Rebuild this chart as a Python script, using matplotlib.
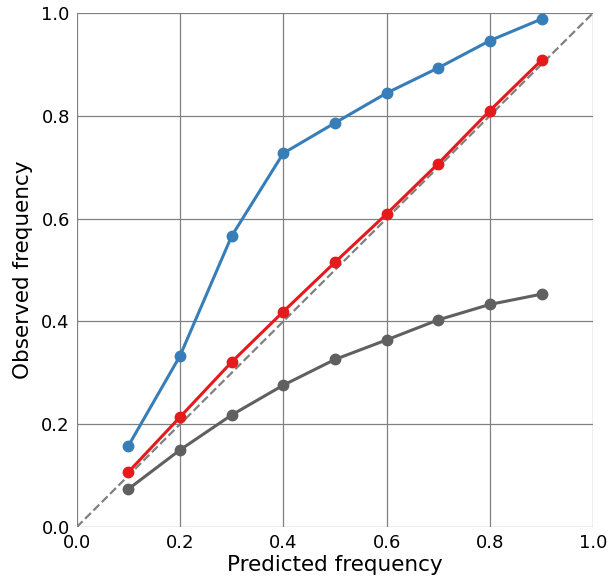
"""Calibration curves: observed vs predicted frequency."""

import numpy
from matplotlib import pyplot

# Bin centres (predicted frequency).
predicted = [0.1, 0.2, 0.3, 0.4, 0.5, 0.6, 0.7, 0.8, 0.9]

# Observed frequency for each model.
observed_blue = [0.158, 0.333, 0.566, 0.727, 0.786, 0.844, 0.893, 0.946, 0.988]
observed_red = [0.107, 0.214, 0.321, 0.419, 0.515, 0.609, 0.707, 0.810, 0.908]
observed_gray = [0.074, 0.150, 0.218, 0.276, 0.326, 0.364, 0.403, 0.433, 0.453]

ticks = [0.0, 0.2, 0.4, 0.6, 0.8, 1.0]

pyplot.rc('font', family='DejaVu Sans', size=13)
fig = pyplot.figure(figsize=(6.09, 5.85), dpi=100)
ax = fig.add_axes([0.126, 0.099, 0.848, 0.879])

ax.plot([0, 1], [0, 1], color='gray', linestyle='--', linewidth=1.6)
for obs, color in zip([observed_blue, observed_red, observed_gray],
                      ['#377eb8', '#e41a1c', '#606060']):
    ax.plot(predicted, obs, color=color, linewidth=2.2, marker='o',
            markersize=7.5)

ax.set_xlim(0.0, 1.0)
ax.set_ylim(0.0, 1.0)
ax.set_xticks(ticks)
ax.set_yticks(ticks)
ax.set_xlabel('Predicted frequency', fontsize=15.5, labelpad=2)
ax.set_ylabel('Observed frequency', fontsize=15.5, labelpad=6)
ax.grid(True, color='#808080', linewidth=0.9)
ax.set_axisbelow(True)
ax.tick_params(length=0, pad=5)
for spine in ax.spines.values():
    spine.set_visible(False)

fig.savefig('out.png', dpi=100)
